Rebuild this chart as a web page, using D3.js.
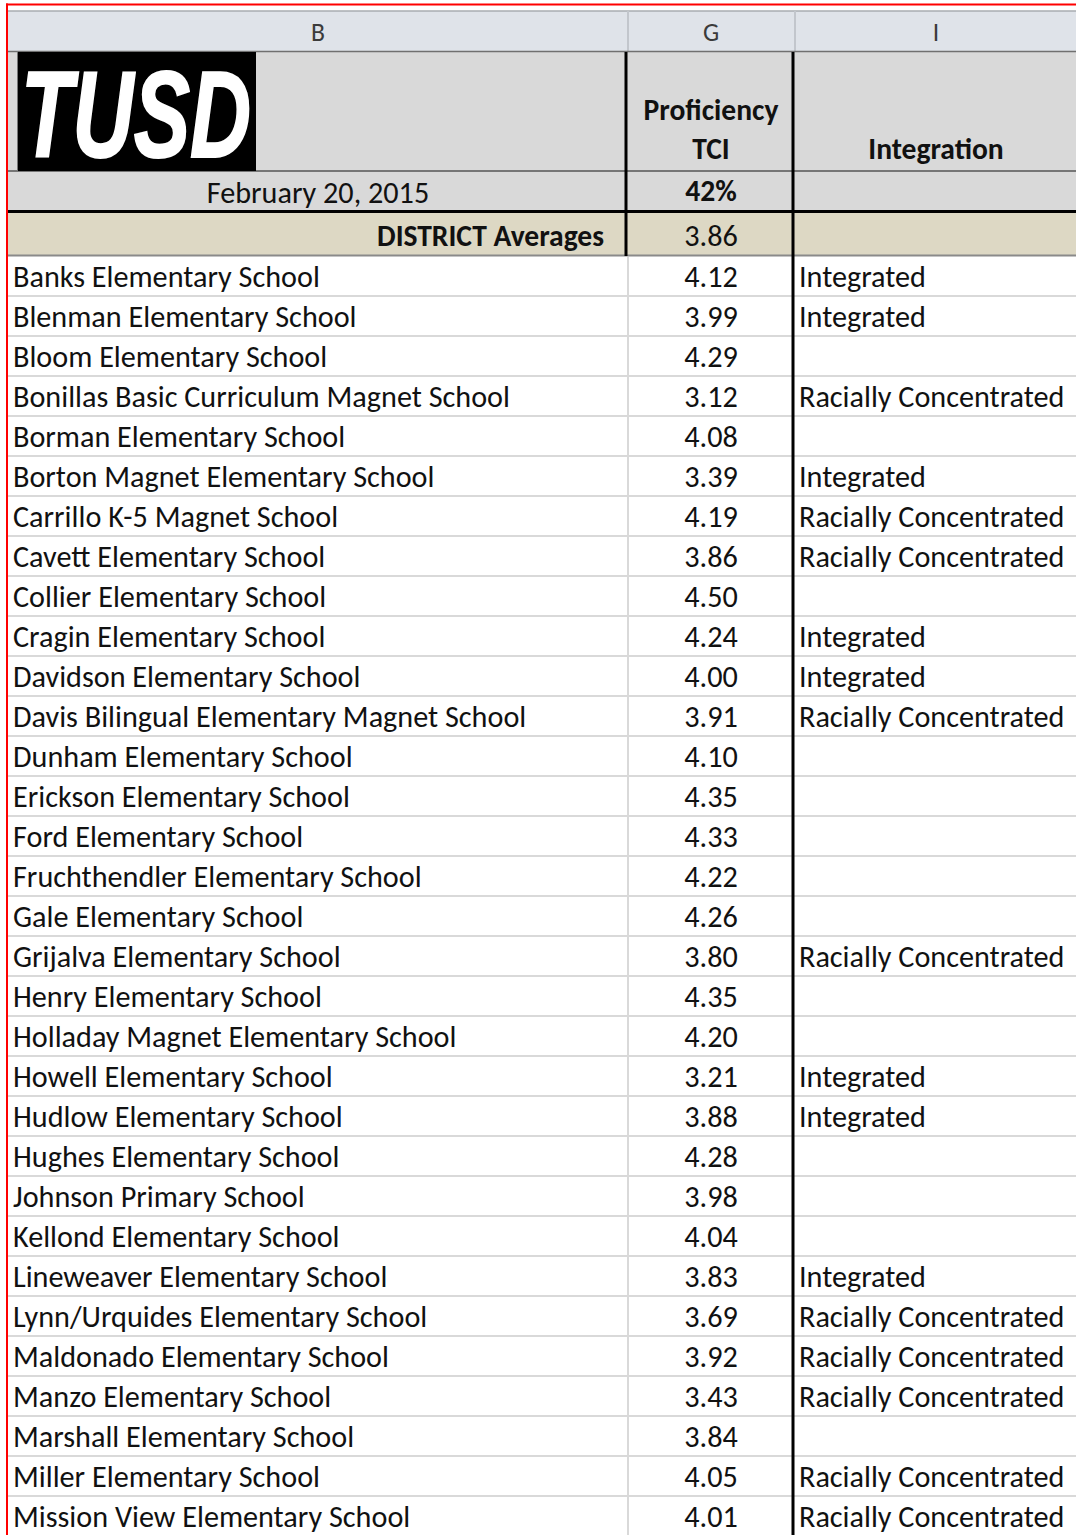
<!DOCTYPE html>
<html><head><meta charset="utf-8">
<script src="https://cdn.jsdelivr.net/npm/d3@7"></script>
<style>html,body{margin:0;padding:0;background:#fff;overflow:hidden;}</style>
</head><body><svg id="c" width="1076" height="1535"></svg>
<script>
// ---------- DATA ----------
const columnLetters = ["B", "G", "I"];
const logoText = "TUSD";
const headerTitle = ["Proficiency", "TCI"];
const headerIntegration = "Integration";
const headerDate = "February 20, 2015";
const headerPct = "42%";
const districtLabel = "DISTRICT Averages";
const districtTci = 3.86;

const schools = [
  "Banks Elementary School",
  "Blenman Elementary School",
  "Bloom Elementary School",
  "Bonillas Basic Curriculum Magnet School",
  "Borman Elementary School",
  "Borton Magnet Elementary School",
  "Carrillo K-5 Magnet School",
  "Cavett Elementary School",
  "Collier Elementary School",
  "Cragin Elementary School",
  "Davidson Elementary School",
  "Davis Bilingual Elementary Magnet School",
  "Dunham Elementary School",
  "Erickson Elementary School",
  "Ford Elementary School",
  "Fruchthendler Elementary School",
  "Gale Elementary School",
  "Grijalva Elementary School",
  "Henry Elementary School",
  "Holladay Magnet Elementary School",
  "Howell Elementary School",
  "Hudlow Elementary School",
  "Hughes Elementary School",
  "Johnson Primary School",
  "Kellond Elementary School",
  "Lineweaver Elementary School",
  "Lynn/Urquides Elementary School",
  "Maldonado Elementary School",
  "Manzo Elementary School",
  "Marshall Elementary School",
  "Miller Elementary School",
  "Mission View Elementary School"
];
const tci = [4.12, 3.99, 4.29, 3.12, 4.08, 3.39, 4.19, 3.86, 4.50, 4.24, 4.00, 3.91,
  4.10, 4.35, 4.33, 4.22, 4.26, 3.80, 4.35, 4.20, 3.21, 3.88, 4.28, 3.98, 4.04,
  3.83, 3.69, 3.92, 3.43, 3.84, 4.05, 4.01];
const integration = ["Integrated", "Integrated", "", "Racially Concentrated", "", "Integrated",
  "Racially Concentrated", "Racially Concentrated", "", "Integrated", "Integrated",
  "Racially Concentrated", "", "", "", "", "", "Racially Concentrated", "", "",
  "Integrated", "Integrated", "", "", "", "Integrated", "Racially Concentrated",
  "Racially Concentrated", "Racially Concentrated", "", "Racially Concentrated",
  "Racially Concentrated"];

// ---------- LAYOUT ----------
const W = 1076, H = 1535;
const FONT = "Carlito, Calibri, Lato, 'Open Sans', sans-serif";
const svg = d3.select("#c");
const fmt = d3.format(".2f");

const colX = { left: 8, bg: 627, gi: 794, right: W };
const colCenter = { B: 318, G: 711, I: 936 };

function fitSize(text, weight, target) {
  const t = svg.append("text").attr("font-family", FONT).attr("font-weight", weight)
    .attr("font-size", 100).text(text);
  const w = t.node().getComputedTextLength();
  t.remove();
  return 100 * target / w;
}
const fsReg = fitSize("Banks Elementary School", "normal", 307);
const fsBold = fitSize("DISTRICT Averages", "bold", 227);

const y = d3.scaleBand().domain(schools).range([256, 256 + 40 * schools.length]).padding(0);

// background
svg.append("rect").attr("width", W).attr("height", H).attr("fill", "#fff");

// column letter header row
svg.append("rect").attr("x", colX.left).attr("y", 11).attr("width", W - colX.left).attr("height", 40).attr("fill", "#dfe3e9");
svg.append("line").attr("x1", colX.left).attr("x2", W).attr("y1", 11).attr("y2", 11).attr("stroke", "#a9acb1").attr("stroke-width", 1.5);
[colX.bg + 1, colX.gi + 1].forEach(x => svg.append("line").attr("x1", x).attr("x2", x).attr("y1", 11).attr("y2", 51).attr("stroke", "#c2c6cc").attr("stroke-width", 2));
svg.selectAll("text.col").data(columnLetters).join("text").attr("class", "col")
  .attr("x", (d, i) => [colCenter.B, colCenter.G, colCenter.I][i]).attr("y", 41)
  .attr("text-anchor", "middle").attr("font-family", FONT).attr("font-size", fsReg * 0.85)
  .attr("fill", "#3b3b3b").text(d => d);

// header rows
svg.append("rect").attr("x", colX.left).attr("y", 51).attr("width", W - colX.left).attr("height", 160).attr("fill", "#d9d9d9");
svg.append("rect").attr("x", colX.left).attr("y", 212).attr("width", W - colX.left).attr("height", 44).attr("fill", "#ddd8c4");
svg.append("line").attr("x1", colX.left).attr("x2", W).attr("y1", 51.5).attr("y2", 51.5).attr("stroke", "#707070").attr("stroke-width", 1.5);
svg.append("line").attr("x1", colX.left).attr("x2", W).attr("y1", 171).attr("y2", 171).attr("stroke", "#555").attr("stroke-width", 1.5);
svg.append("line").attr("x1", colX.left).attr("x2", W).attr("y1", 211.5).attr("y2", 211.5).attr("stroke", "#000").attr("stroke-width", 3);
svg.append("line").attr("x1", colX.left).attr("x2", W).attr("y1", 255.5).attr("y2", 255.5).attr("stroke", "#8a8a8a").attr("stroke-width", 2);
svg.append("line").attr("x1", 17.5).attr("x2", 17.5).attr("y1", 51).attr("y2", 171).attr("stroke", "#777").attr("stroke-width", 1);

// logo
svg.append("rect").attr("x", 18).attr("y", 52).attr("width", 238).attr("height", 119).attr("fill", "#000");
svg.append("text").attr("x", 21).attr("y", 157).attr("font-family", "'Liberation Sans', Arial, sans-serif")
  .attr("font-weight", "bold").attr("font-style", "italic").attr("font-size", 122)
  .attr("textLength", 230).attr("lengthAdjust", "spacingAndGlyphs").attr("fill", "#fff")
  .attr("stroke", "#fff").attr("stroke-width", 2).text(logoText);

// header texts
svg.append("text").attr("x", colCenter.G).attr("y", 120).attr("text-anchor", "middle").attr("font-family", FONT)
  .attr("font-weight", "bold").attr("font-size", fsBold).attr("fill", "#111").text(headerTitle[0]);
svg.append("text").attr("x", colCenter.G).attr("y", 159).attr("text-anchor", "middle").attr("font-family", FONT)
  .attr("font-weight", "bold").attr("font-size", fsBold).attr("fill", "#111").text(headerTitle[1]);
svg.append("text").attr("x", colCenter.I).attr("y", 159).attr("text-anchor", "middle").attr("font-family", FONT)
  .attr("font-weight", "bold").attr("font-size", fsBold).attr("fill", "#111").text(headerIntegration);
svg.append("text").attr("x", colCenter.B).attr("y", 203).attr("text-anchor", "middle").attr("font-family", FONT)
  .attr("font-size", fsReg).attr("fill", "#111").text(headerDate);
svg.append("text").attr("x", colCenter.G).attr("y", 201).attr("text-anchor", "middle").attr("font-family", FONT)
  .attr("font-weight", "bold").attr("font-size", fsBold).attr("fill", "#111").text(headerPct);
svg.append("text").attr("x", 604).attr("y", 246).attr("text-anchor", "end").attr("font-family", FONT)
  .attr("font-weight", "bold").attr("font-size", fsBold).attr("fill", "#111").text(districtLabel);
svg.append("text").attr("x", colCenter.G).attr("y", 246).attr("text-anchor", "middle").attr("font-family", FONT)
  .attr("font-size", fsReg).attr("fill", "#111").text(fmt(districtTci));

// data rows grid
const rows = schools.map((s, i) => ({ school: s, tci: tci[i], integ: integration[i] }));
svg.selectAll("line.hgrid").data(rows).join("line").attr("class", "hgrid")
  .attr("x1", colX.left).attr("x2", W)
  .attr("y1", d => y(d.school) + y.bandwidth()).attr("y2", d => y(d.school) + y.bandwidth())
  .attr("stroke", "#d9d9d9").attr("stroke-width", 2);
svg.append("line").attr("x1", colX.bg + 1).attr("x2", colX.bg + 1).attr("y1", 257).attr("y2", H)
  .attr("stroke", "#d9d9d9").attr("stroke-width", 2);

// thick vertical borders
svg.append("line").attr("x1", 626).attr("x2", 626).attr("y1", 52).attr("y2", 256).attr("stroke", "#000").attr("stroke-width", 3);
svg.append("line").attr("x1", 793).attr("x2", 793).attr("y1", 52).attr("y2", H).attr("stroke", "#000").attr("stroke-width", 3);

// data texts
const g = svg.append("g").attr("font-family", FONT).attr("font-size", fsReg).attr("fill", "#111");
g.selectAll("text.name").data(rows).join("text").attr("class", "name")
  .attr("x", 13).attr("y", d => y(d.school) + 31).text(d => d.school);
g.selectAll("text.val").data(rows).join("text").attr("class", "val")
  .attr("x", colCenter.G).attr("text-anchor", "middle").attr("y", d => y(d.school) + 31).text(d => fmt(d.tci));
g.selectAll("text.integ").data(rows.filter(d => d.integ)).join("text").attr("class", "integ")
  .attr("x", 799).attr("y", d => y(d.school) + 31).text(d => d.integ);

// red outline
svg.append("line").attr("x1", 6).attr("x2", W).attr("y1", 4.5).attr("y2", 4.5).attr("stroke", "#ff0000").attr("stroke-width", 2);
svg.append("line").attr("x1", 7).attr("x2", 7).attr("y1", 3.5).attr("y2", H).attr("stroke", "#ff0000").attr("stroke-width", 2);
</script>
</body></html>
